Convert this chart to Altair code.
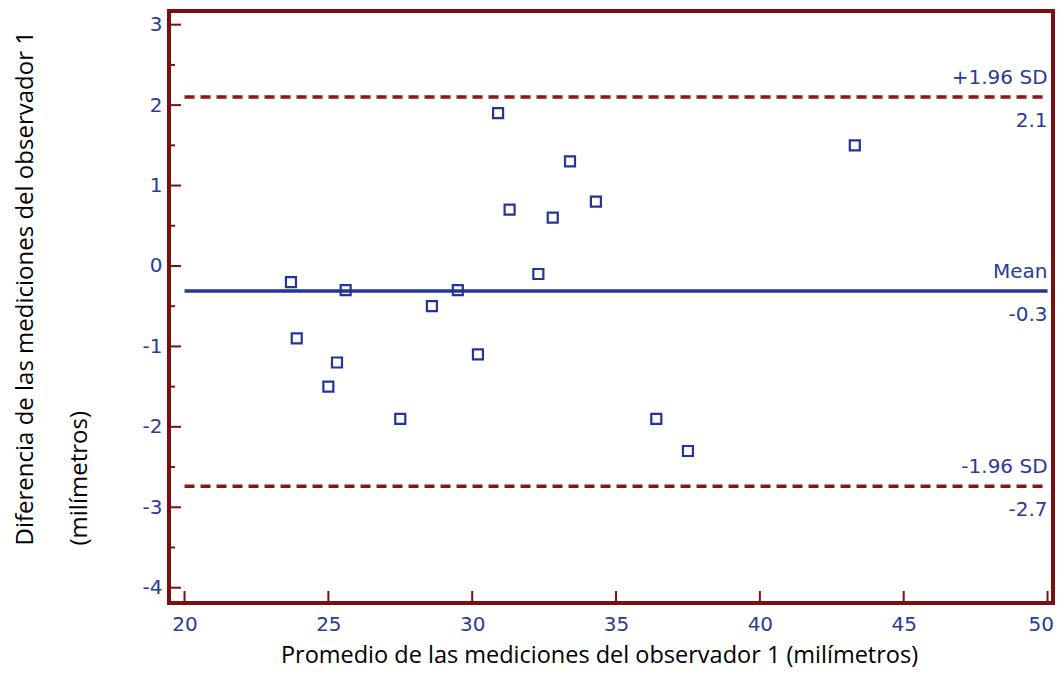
import altair as alt
import pandas as pd

# ---- data ----
avg_mm = [23.7, 23.9, 25.0, 25.3, 25.6, 27.5, 28.6, 29.5, 30.2, 30.9,
          31.3, 32.3, 32.8, 33.4, 34.3, 36.4, 37.5, 43.3]
diff_mm = [-0.2, -0.9, -1.5, -1.2, -0.3, -1.9, -0.5, -0.3, -1.1, 1.9,
           0.7, -0.1, 0.6, 1.3, 0.8, -1.9, -2.3, 1.5]

ref_names = ["+1.96 SD", "Mean", "-1.96 SD"]
ref_values = [2.1, -0.31, -2.74]
ref_value_labels = ["2.1", "-0.3", "-2.7"]
ref_kind = ["sd", "mean", "sd"]
line_start = 20
line_end = 50

x_ticks = [20, 25, 30, 35, 40, 45, 50]
y_major = [-4, -3, -2, -1, 0, 1, 2, 3]
y_minor = [-3.5, -2.5, -1.5, -0.5, 0.5, 1.5, 2.5]

x_domain = [19.46, 50.19]
y_domain = [-4.19, 3.17]

MAROON = "#7b1010"
DASH_RED = "#8b1616"
BLUE = "#23349a"
LABEL_BLUE = "#2a3a9c"

pts = pd.DataFrame({"avg": avg_mm, "diff": diff_mm})
refs = pd.DataFrame({"name": ref_names, "v": ref_values, "lab": ref_value_labels,
                     "kind": ref_kind, "x0": line_start, "x1": line_end})
xt = pd.DataFrame({"v": x_ticks})
ymaj = pd.DataFrame({"v": y_major})
ymin = pd.DataFrame({"v": y_minor})

xs = alt.Scale(domain=x_domain, nice=False, zero=False)
ys = alt.Scale(domain=y_domain, nice=False, zero=False)

x_axis = alt.Axis(values=x_ticks, ticks=False, tickSize=0, domain=False, grid=False,
                  labelColor=LABEL_BLUE, labelFont="DejaVu Sans", labelFontSize=20,
                  labelPadding=11, labelExpr="'' + datum.value",
                  labelFlush=10, labelFlushOffset=6,
                  title="Promedio de las mediciones del observador 1 (milímetros)",
                  titleFont="Open Sans", titleFontSize=23.5, titleFontWeight="normal",
                  titleColor="#000000", titleX=430, titleY=59,
                  titleAlign="center", titleBaseline="alphabetic")
y_axis = alt.Axis(values=y_major, ticks=False, tickSize=0, domain=False, grid=False,
                  labelColor=LABEL_BLUE, labelFont="DejaVu Sans", labelFontSize=20,
                  labelPadding=7, labelExpr="'' + datum.value",
                  title=["Diferencia de las mediciones del observador 1", "(milímetros)"],
                  titleFont="Open Sans", titleFontSize=24, titleFontWeight="normal",
                  titleColor="#000000", titleAngle=270, titleAlign="left",
                  titleBaseline="alphabetic", titleX=-137, titleY=534,
                  titleLineHeight=54)

points = alt.Chart(pts).mark_point(shape="square", filled=False, size=100,
                                   strokeWidth=2.2, color=BLUE, opacity=1).encode(
    x=alt.X("avg:Q", scale=xs, axis=x_axis),
    y=alt.Y("diff:Q", scale=ys, axis=y_axis),
)

sd_lines = alt.Chart(refs).transform_filter(alt.datum.kind == "sd").mark_rule(
    color=DASH_RED, strokeWidth=3.5, strokeDash=[10, 6]).encode(
    x=alt.X("x0:Q", scale=xs), x2="x1:Q", y=alt.Y("v:Q", scale=ys))

mean_line = alt.Chart(refs).transform_filter(alt.datum.kind == "mean").mark_rule(
    color=BLUE, strokeWidth=3.5).encode(
    x=alt.X("x0:Q", scale=xs), x2="x1:Q", y=alt.Y("v:Q", scale=ys))

name_text = alt.Chart(refs).mark_text(
    align="right", baseline="alphabetic", dy=-13, font="DejaVu Sans",
    fontSize=20, color=LABEL_BLUE).encode(
    x=alt.X("x1:Q", scale=xs), y=alt.Y("v:Q", scale=ys), text="name:N")

val_text = alt.Chart(refs).mark_text(
    align="right", baseline="alphabetic", dy=30, font="DejaVu Sans",
    fontSize=20, color=LABEL_BLUE).encode(
    x=alt.X("x1:Q", scale=xs), y=alt.Y("v:Q", scale=ys), text="lab:N")

x_tick_rules = alt.Chart(xt).mark_rule(color=MAROON, strokeWidth=2).encode(
    x=alt.X("v:Q", scale=xs), y=alt.value(592), y2=alt.value(580))

y_major_rules = alt.Chart(ymaj).mark_rule(color=MAROON, strokeWidth=2).encode(
    y=alt.Y("v:Q", scale=ys), x=alt.value(0), x2=alt.value(12))

y_minor_rules = alt.Chart(ymin).mark_rule(color=MAROON, strokeWidth=2).encode(
    y=alt.Y("v:Q", scale=ys), x=alt.value(0), x2=alt.value(6))

chart = alt.layer(
    x_tick_rules, y_major_rules, y_minor_rules,
    sd_lines, mean_line, name_text, val_text, points,
).properties(
    width=884, height=592,
    autosize=alt.AutoSizeParams(type="none"),
    padding={"left": 161, "top": 3, "right": 2, "bottom": 65},
    background="white",
).configure_view(
    stroke=MAROON, strokeWidth=4,
)

chart.save("out.html", embed_options={"renderer": "svg", "actions": False})
